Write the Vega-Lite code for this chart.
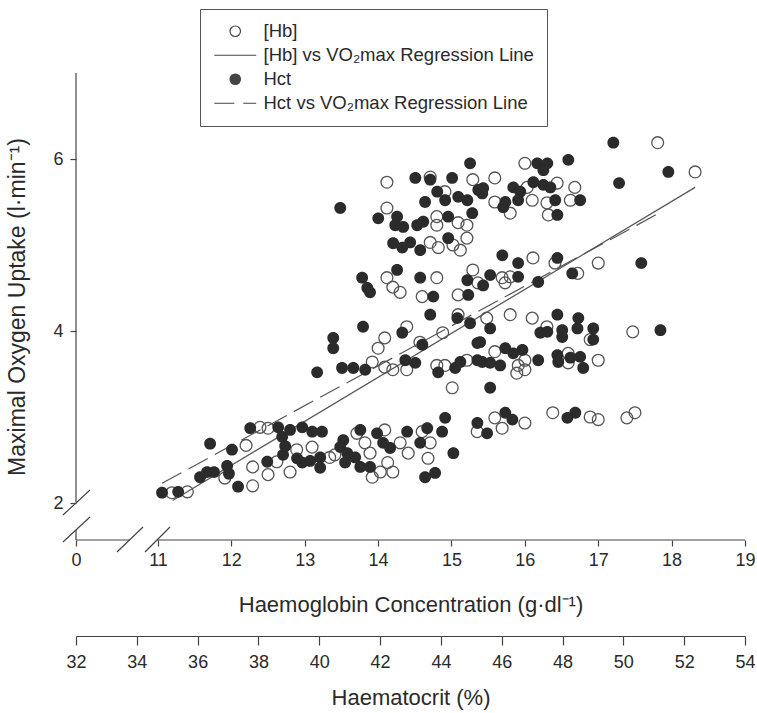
{
  "$schema": "https://vega.github.io/schema/vega-lite/v6.json",
  "width": 669,
  "height": 467,
  "autosize": {"type": "none"},
  "padding": {"left": 76, "top": 73, "right": 12, "bottom": 173},
  "background": "white",
  "config": {
    "view": {"stroke": null},
    "font": "Liberation Sans",
    "axis": {
      "grid": false,
      "labelFont": "Liberation Sans",
      "titleFont": "Liberation Sans",
      "labelFontSize": 18,
      "titleFontSize": 22,
      "titleFontWeight": "normal",
      "labelColor": "#2a2a2a",
      "titleColor": "#2a2a2a",
      "domainColor": "#444",
      "tickColor": "#444",
      "domainWidth": 1.2,
      "tickWidth": 1.2,
      "labelFlush": false,
      "labelOverlap": false
    },
    "legend": {
      "padding": 13,
      "strokeColor": "#555",
      "fillColor": "white",
      "cornerRadius": 0,
      "labelFont": "Liberation Sans",
      "labelFontSize": 18.5,
      "labelColor": "#2a2a2a",
      "labelLimit": 500,
      "symbolSize": 110,
      "symbolStrokeWidth": 1.2,
      "symbolStrokeColor": "#444",
      "rowPadding": 5,
      "symbolOffset": 13,
      "labelOffset": 19
    }
  },
  "datasets": {
    "hb": [
      {"Hb": 11.19, "VO2": 2.12, "series": "[Hb]"},
      {"Hb": 11.40, "VO2": 2.13, "series": "[Hb]"},
      {"Hb": 11.91, "VO2": 2.29, "series": "[Hb]"},
      {"Hb": 12.20, "VO2": 2.67, "series": "[Hb]"},
      {"Hb": 12.29, "VO2": 2.42, "series": "[Hb]"},
      {"Hb": 12.29, "VO2": 2.20, "series": "[Hb]"},
      {"Hb": 12.39, "VO2": 2.88, "series": "[Hb]"},
      {"Hb": 12.50, "VO2": 2.87, "series": "[Hb]"},
      {"Hb": 12.50, "VO2": 2.33, "series": "[Hb]"},
      {"Hb": 12.62, "VO2": 2.48, "series": "[Hb]"},
      {"Hb": 12.80, "VO2": 2.36, "series": "[Hb]"},
      {"Hb": 12.89, "VO2": 2.62, "series": "[Hb]"},
      {"Hb": 13.10, "VO2": 2.65, "series": "[Hb]"},
      {"Hb": 13.34, "VO2": 2.53, "series": "[Hb]"},
      {"Hb": 13.41, "VO2": 2.56, "series": "[Hb]"},
      {"Hb": 13.71, "VO2": 2.81, "series": "[Hb]"},
      {"Hb": 13.82, "VO2": 2.70, "series": "[Hb]"},
      {"Hb": 13.89, "VO2": 2.58, "series": "[Hb]"},
      {"Hb": 13.92, "VO2": 2.30, "series": "[Hb]"},
      {"Hb": 14.03, "VO2": 2.36, "series": "[Hb]"},
      {"Hb": 14.09, "VO2": 2.85, "series": "[Hb]"},
      {"Hb": 14.13, "VO2": 2.47, "series": "[Hb]"},
      {"Hb": 14.20, "VO2": 2.36, "series": "[Hb]"},
      {"Hb": 14.30, "VO2": 2.70, "series": "[Hb]"},
      {"Hb": 14.41, "VO2": 2.58, "series": "[Hb]"},
      {"Hb": 14.60, "VO2": 2.83, "series": "[Hb]"},
      {"Hb": 14.71, "VO2": 2.70, "series": "[Hb]"},
      {"Hb": 14.68, "VO2": 2.52, "series": "[Hb]"},
      {"Hb": 15.35, "VO2": 2.83, "series": "[Hb]"},
      {"Hb": 14.39, "VO2": 4.05, "series": "[Hb]"},
      {"Hb": 14.09, "VO2": 3.92, "series": "[Hb]"},
      {"Hb": 14.00, "VO2": 3.80, "series": "[Hb]"},
      {"Hb": 14.57, "VO2": 3.87, "series": "[Hb]"},
      {"Hb": 14.88, "VO2": 3.98, "series": "[Hb]"},
      {"Hb": 13.92, "VO2": 3.64, "series": "[Hb]"},
      {"Hb": 14.09, "VO2": 3.58, "series": "[Hb]"},
      {"Hb": 14.20, "VO2": 3.55, "series": "[Hb]"},
      {"Hb": 14.39, "VO2": 3.55, "series": "[Hb]"},
      {"Hb": 14.80, "VO2": 3.60, "series": "[Hb]"},
      {"Hb": 14.91, "VO2": 3.60, "series": "[Hb]"},
      {"Hb": 15.21, "VO2": 3.66, "series": "[Hb]"},
      {"Hb": 15.01, "VO2": 3.34, "series": "[Hb]"},
      {"Hb": 15.09, "VO2": 4.19, "series": "[Hb]"},
      {"Hb": 15.48, "VO2": 4.15, "series": "[Hb]"},
      {"Hb": 15.80, "VO2": 4.19, "series": "[Hb]"},
      {"Hb": 16.10, "VO2": 4.15, "series": "[Hb]"},
      {"Hb": 16.30, "VO2": 4.05, "series": "[Hb]"},
      {"Hb": 16.89, "VO2": 3.90, "series": "[Hb]"},
      {"Hb": 17.47, "VO2": 3.99, "series": "[Hb]"},
      {"Hb": 15.59, "VO2": 3.76, "series": "[Hb]"},
      {"Hb": 16.00, "VO2": 3.66, "series": "[Hb]"},
      {"Hb": 15.91, "VO2": 3.60, "series": "[Hb]"},
      {"Hb": 16.00, "VO2": 3.55, "series": "[Hb]"},
      {"Hb": 15.89, "VO2": 3.51, "series": "[Hb]"},
      {"Hb": 16.59, "VO2": 3.74, "series": "[Hb]"},
      {"Hb": 16.59, "VO2": 3.63, "series": "[Hb]"},
      {"Hb": 17.00, "VO2": 3.66, "series": "[Hb]"},
      {"Hb": 15.59, "VO2": 2.99, "series": "[Hb]"},
      {"Hb": 15.69, "VO2": 2.87, "series": "[Hb]"},
      {"Hb": 16.00, "VO2": 2.93, "series": "[Hb]"},
      {"Hb": 16.38, "VO2": 3.05, "series": "[Hb]"},
      {"Hb": 16.89, "VO2": 3.00, "series": "[Hb]"},
      {"Hb": 17.00, "VO2": 2.97, "series": "[Hb]"},
      {"Hb": 17.39, "VO2": 2.99, "series": "[Hb]"},
      {"Hb": 17.50, "VO2": 3.05, "series": "[Hb]"},
      {"Hb": 14.12, "VO2": 5.73, "series": "[Hb]"},
      {"Hb": 14.71, "VO2": 5.79, "series": "[Hb]"},
      {"Hb": 15.29, "VO2": 5.76, "series": "[Hb]"},
      {"Hb": 14.91, "VO2": 5.62, "series": "[Hb]"},
      {"Hb": 14.12, "VO2": 5.43, "series": "[Hb]"},
      {"Hb": 14.80, "VO2": 5.33, "series": "[Hb]"},
      {"Hb": 14.80, "VO2": 5.23, "series": "[Hb]"},
      {"Hb": 15.09, "VO2": 5.26, "series": "[Hb]"},
      {"Hb": 15.21, "VO2": 5.23, "series": "[Hb]"},
      {"Hb": 14.71, "VO2": 5.03, "series": "[Hb]"},
      {"Hb": 14.82, "VO2": 4.97, "series": "[Hb]"},
      {"Hb": 15.02, "VO2": 5.00, "series": "[Hb]"},
      {"Hb": 15.12, "VO2": 4.94, "series": "[Hb]"},
      {"Hb": 15.21, "VO2": 5.08, "series": "[Hb]"},
      {"Hb": 14.12, "VO2": 4.62, "series": "[Hb]"},
      {"Hb": 14.20, "VO2": 4.51, "series": "[Hb]"},
      {"Hb": 14.30, "VO2": 4.45, "series": "[Hb]"},
      {"Hb": 14.80, "VO2": 4.62, "series": "[Hb]"},
      {"Hb": 14.60, "VO2": 4.40, "series": "[Hb]"},
      {"Hb": 15.09, "VO2": 4.42, "series": "[Hb]"},
      {"Hb": 15.29, "VO2": 4.71, "series": "[Hb]"},
      {"Hb": 15.36, "VO2": 4.56, "series": "[Hb]"},
      {"Hb": 16.00, "VO2": 5.95, "series": "[Hb]"},
      {"Hb": 15.59, "VO2": 5.78, "series": "[Hb]"},
      {"Hb": 16.03, "VO2": 5.67, "series": "[Hb]"},
      {"Hb": 16.44, "VO2": 5.72, "series": "[Hb]"},
      {"Hb": 16.68, "VO2": 5.67, "series": "[Hb]"},
      {"Hb": 15.59, "VO2": 5.50, "series": "[Hb]"},
      {"Hb": 15.80, "VO2": 5.37, "series": "[Hb]"},
      {"Hb": 16.10, "VO2": 5.52, "series": "[Hb]"},
      {"Hb": 16.30, "VO2": 5.49, "series": "[Hb]"},
      {"Hb": 16.32, "VO2": 5.35, "series": "[Hb]"},
      {"Hb": 16.62, "VO2": 5.52, "series": "[Hb]"},
      {"Hb": 16.11, "VO2": 4.85, "series": "[Hb]"},
      {"Hb": 16.41, "VO2": 4.79, "series": "[Hb]"},
      {"Hb": 17.00, "VO2": 4.79, "series": "[Hb]"},
      {"Hb": 16.72, "VO2": 4.67, "series": "[Hb]"},
      {"Hb": 15.80, "VO2": 4.63, "series": "[Hb]"},
      {"Hb": 15.69, "VO2": 4.62, "series": "[Hb]"},
      {"Hb": 15.73, "VO2": 4.56, "series": "[Hb]"},
      {"Hb": 17.81, "VO2": 6.19, "series": "[Hb]"},
      {"Hb": 18.32, "VO2": 5.85, "series": "[Hb]"}
    ],
    "hct": [
      {"Hct": 34.83, "VO2": 2.12, "series": "Hct"},
      {"Hct": 35.36, "VO2": 2.13, "series": "Hct"},
      {"Hct": 36.08, "VO2": 2.30, "series": "Hct"},
      {"Hct": 36.31, "VO2": 2.36, "series": "Hct"},
      {"Hct": 36.54, "VO2": 2.36, "series": "Hct"},
      {"Hct": 36.41, "VO2": 2.69, "series": "Hct"},
      {"Hct": 36.97, "VO2": 2.43, "series": "Hct"},
      {"Hct": 37.03, "VO2": 2.34, "series": "Hct"},
      {"Hct": 37.13, "VO2": 2.62, "series": "Hct"},
      {"Hct": 37.33, "VO2": 2.19, "series": "Hct"},
      {"Hct": 37.73, "VO2": 2.87, "series": "Hct"},
      {"Hct": 38.29, "VO2": 2.48, "series": "Hct"},
      {"Hct": 38.65, "VO2": 2.88, "series": "Hct"},
      {"Hct": 38.78, "VO2": 2.77, "series": "Hct"},
      {"Hct": 38.88, "VO2": 2.66, "series": "Hct"},
      {"Hct": 38.81, "VO2": 2.56, "series": "Hct"},
      {"Hct": 39.04, "VO2": 2.85, "series": "Hct"},
      {"Hct": 39.27, "VO2": 2.52, "series": "Hct"},
      {"Hct": 39.44, "VO2": 2.88, "series": "Hct"},
      {"Hct": 39.44, "VO2": 2.47, "series": "Hct"},
      {"Hct": 39.70, "VO2": 2.49, "series": "Hct"},
      {"Hct": 39.77, "VO2": 2.83, "series": "Hct"},
      {"Hct": 40.03, "VO2": 2.53, "series": "Hct"},
      {"Hct": 40.03, "VO2": 2.41, "series": "Hct"},
      {"Hct": 40.09, "VO2": 2.83, "series": "Hct"},
      {"Hct": 39.93, "VO2": 3.52, "series": "Hct"},
      {"Hct": 40.46, "VO2": 3.92, "series": "Hct"},
      {"Hct": 40.46, "VO2": 3.80, "series": "Hct"},
      {"Hct": 40.75, "VO2": 3.57, "series": "Hct"},
      {"Hct": 41.12, "VO2": 3.57, "series": "Hct"},
      {"Hct": 41.51, "VO2": 3.55, "series": "Hct"},
      {"Hct": 41.44, "VO2": 4.05, "series": "Hct"},
      {"Hct": 42.73, "VO2": 3.98, "series": "Hct"},
      {"Hct": 43.39, "VO2": 3.84, "series": "Hct"},
      {"Hct": 42.83, "VO2": 3.66, "series": "Hct"},
      {"Hct": 43.16, "VO2": 3.63, "series": "Hct"},
      {"Hct": 43.91, "VO2": 3.52, "series": "Hct"},
      {"Hct": 44.47, "VO2": 3.57, "series": "Hct"},
      {"Hct": 44.64, "VO2": 3.64, "series": "Hct"},
      {"Hct": 43.65, "VO2": 4.19, "series": "Hct"},
      {"Hct": 44.54, "VO2": 4.15, "series": "Hct"},
      {"Hct": 44.96, "VO2": 4.09, "series": "Hct"},
      {"Hct": 45.20, "VO2": 3.86, "series": "Hct"},
      {"Hct": 45.20, "VO2": 3.66, "series": "Hct"},
      {"Hct": 40.79, "VO2": 2.73, "series": "Hct"},
      {"Hct": 40.69, "VO2": 2.65, "series": "Hct"},
      {"Hct": 40.92, "VO2": 2.58, "series": "Hct"},
      {"Hct": 40.85, "VO2": 2.47, "series": "Hct"},
      {"Hct": 41.18, "VO2": 2.53, "series": "Hct"},
      {"Hct": 41.35, "VO2": 2.85, "series": "Hct"},
      {"Hct": 41.35, "VO2": 2.42, "series": "Hct"},
      {"Hct": 41.67, "VO2": 2.42, "series": "Hct"},
      {"Hct": 41.90, "VO2": 2.81, "series": "Hct"},
      {"Hct": 42.10, "VO2": 2.70, "series": "Hct"},
      {"Hct": 42.33, "VO2": 2.64, "series": "Hct"},
      {"Hct": 42.89, "VO2": 2.83, "series": "Hct"},
      {"Hct": 43.32, "VO2": 2.70, "series": "Hct"},
      {"Hct": 43.55, "VO2": 2.87, "series": "Hct"},
      {"Hct": 44.04, "VO2": 2.83, "series": "Hct"},
      {"Hct": 44.14, "VO2": 2.99, "series": "Hct"},
      {"Hct": 44.41, "VO2": 2.58, "series": "Hct"},
      {"Hct": 43.48, "VO2": 2.30, "series": "Hct"},
      {"Hct": 43.81, "VO2": 2.35, "series": "Hct"},
      {"Hct": 45.20, "VO2": 2.93, "series": "Hct"},
      {"Hct": 45.62, "VO2": 4.03, "series": "Hct"},
      {"Hct": 47.83, "VO2": 4.19, "series": "Hct"},
      {"Hct": 48.52, "VO2": 4.15, "series": "Hct"},
      {"Hct": 49.01, "VO2": 4.03, "series": "Hct"},
      {"Hct": 49.01, "VO2": 3.90, "series": "Hct"},
      {"Hct": 47.27, "VO2": 3.98, "series": "Hct"},
      {"Hct": 47.50, "VO2": 3.99, "series": "Hct"},
      {"Hct": 47.99, "VO2": 4.01, "series": "Hct"},
      {"Hct": 47.99, "VO2": 3.93, "series": "Hct"},
      {"Hct": 48.49, "VO2": 4.03, "series": "Hct"},
      {"Hct": 46.12, "VO2": 3.80, "series": "Hct"},
      {"Hct": 46.38, "VO2": 3.74, "series": "Hct"},
      {"Hct": 46.68, "VO2": 3.78, "series": "Hct"},
      {"Hct": 47.20, "VO2": 3.66, "series": "Hct"},
      {"Hct": 47.83, "VO2": 3.72, "series": "Hct"},
      {"Hct": 47.86, "VO2": 3.64, "series": "Hct"},
      {"Hct": 48.26, "VO2": 3.69, "series": "Hct"},
      {"Hct": 48.58, "VO2": 3.70, "series": "Hct"},
      {"Hct": 48.68, "VO2": 3.57, "series": "Hct"},
      {"Hct": 45.29, "VO2": 3.87, "series": "Hct"},
      {"Hct": 45.36, "VO2": 3.64, "series": "Hct"},
      {"Hct": 45.62, "VO2": 3.63, "series": "Hct"},
      {"Hct": 45.95, "VO2": 3.60, "series": "Hct"},
      {"Hct": 45.62, "VO2": 3.34, "series": "Hct"},
      {"Hct": 46.12, "VO2": 3.05, "series": "Hct"},
      {"Hct": 46.35, "VO2": 2.97, "series": "Hct"},
      {"Hct": 48.16, "VO2": 2.99, "series": "Hct"},
      {"Hct": 48.42, "VO2": 3.05, "series": "Hct"},
      {"Hct": 45.52, "VO2": 2.81, "series": "Hct"},
      {"Hct": 44.96, "VO2": 5.95, "series": "Hct"},
      {"Hct": 43.16, "VO2": 5.78, "series": "Hct"},
      {"Hct": 43.65, "VO2": 5.76, "series": "Hct"},
      {"Hct": 44.37, "VO2": 5.78, "series": "Hct"},
      {"Hct": 40.69, "VO2": 5.43, "series": "Hct"},
      {"Hct": 43.88, "VO2": 5.62, "series": "Hct"},
      {"Hct": 43.48, "VO2": 5.50, "series": "Hct"},
      {"Hct": 44.14, "VO2": 5.52, "series": "Hct"},
      {"Hct": 44.57, "VO2": 5.56, "series": "Hct"},
      {"Hct": 44.87, "VO2": 5.52, "series": "Hct"},
      {"Hct": 45.23, "VO2": 5.64, "series": "Hct"},
      {"Hct": 41.94, "VO2": 5.31, "series": "Hct"},
      {"Hct": 42.56, "VO2": 5.33, "series": "Hct"},
      {"Hct": 42.50, "VO2": 5.23, "series": "Hct"},
      {"Hct": 42.76, "VO2": 5.21, "series": "Hct"},
      {"Hct": 43.22, "VO2": 5.23, "series": "Hct"},
      {"Hct": 43.42, "VO2": 5.27, "series": "Hct"},
      {"Hct": 44.24, "VO2": 5.33, "series": "Hct"},
      {"Hct": 45.03, "VO2": 5.37, "series": "Hct"},
      {"Hct": 42.43, "VO2": 5.02, "series": "Hct"},
      {"Hct": 42.73, "VO2": 4.97, "series": "Hct"},
      {"Hct": 42.99, "VO2": 5.03, "series": "Hct"},
      {"Hct": 43.32, "VO2": 4.94, "series": "Hct"},
      {"Hct": 44.24, "VO2": 5.08, "series": "Hct"},
      {"Hct": 42.56, "VO2": 4.71, "series": "Hct"},
      {"Hct": 41.41, "VO2": 4.62, "series": "Hct"},
      {"Hct": 41.58, "VO2": 4.50, "series": "Hct"},
      {"Hct": 41.67, "VO2": 4.45, "series": "Hct"},
      {"Hct": 43.32, "VO2": 4.62, "series": "Hct"},
      {"Hct": 43.75, "VO2": 4.40, "series": "Hct"},
      {"Hct": 44.87, "VO2": 4.59, "series": "Hct"},
      {"Hct": 44.90, "VO2": 4.42, "series": "Hct"},
      {"Hct": 48.19, "VO2": 5.99, "series": "Hct"},
      {"Hct": 49.67, "VO2": 6.19, "series": "Hct"},
      {"Hct": 49.86, "VO2": 5.72, "series": "Hct"},
      {"Hct": 47.17, "VO2": 5.95, "series": "Hct"},
      {"Hct": 47.50, "VO2": 5.95, "series": "Hct"},
      {"Hct": 47.37, "VO2": 5.87, "series": "Hct"},
      {"Hct": 47.04, "VO2": 5.73, "series": "Hct"},
      {"Hct": 47.37, "VO2": 5.70, "series": "Hct"},
      {"Hct": 47.60, "VO2": 5.67, "series": "Hct"},
      {"Hct": 46.38, "VO2": 5.67, "series": "Hct"},
      {"Hct": 46.61, "VO2": 5.62, "series": "Hct"},
      {"Hct": 46.54, "VO2": 5.52, "series": "Hct"},
      {"Hct": 46.12, "VO2": 5.50, "series": "Hct"},
      {"Hct": 46.05, "VO2": 5.44, "series": "Hct"},
      {"Hct": 45.39, "VO2": 5.66, "series": "Hct"},
      {"Hct": 45.36, "VO2": 5.60, "series": "Hct"},
      {"Hct": 47.76, "VO2": 5.52, "series": "Hct"},
      {"Hct": 48.58, "VO2": 5.52, "series": "Hct"},
      {"Hct": 47.83, "VO2": 5.35, "series": "Hct"},
      {"Hct": 46.02, "VO2": 4.88, "series": "Hct"},
      {"Hct": 46.54, "VO2": 4.79, "series": "Hct"},
      {"Hct": 47.83, "VO2": 4.85, "series": "Hct"},
      {"Hct": 48.32, "VO2": 4.67, "series": "Hct"},
      {"Hct": 46.54, "VO2": 4.63, "series": "Hct"},
      {"Hct": 45.62, "VO2": 4.65, "series": "Hct"},
      {"Hct": 45.39, "VO2": 4.53, "series": "Hct"},
      {"Hct": 47.20, "VO2": 4.57, "series": "Hct"},
      {"Hct": 51.48, "VO2": 5.85, "series": "Hct"},
      {"Hct": 50.59, "VO2": 4.79, "series": "Hct"},
      {"Hct": 51.22, "VO2": 4.01, "series": "Hct"}
    ],
    "hbfit": [
      {"Hb": 11.2, "VO2": 2.03},
      {"Hb": 18.32, "VO2": 5.67}
    ],
    "hctfit": [
      {"Hct": 34.83, "VO2": 2.23},
      {"Hct": 51.22, "VO2": 5.38}
    ],
    "axislines": [
      {"Hb": 9.8825, "Hb2": 9.8825, "VO2": 2.01, "VO2b": 7.0},
      {"Hb": 9.8825, "Hb2": 9.8825, "VO2": 1.57, "VO2b": 1.686},
      {"Hb": 9.8825, "Hb2": 10.618, "VO2": 1.57, "VO2b": 1.57},
      {"Hb": 10.986, "Hb2": 19.0, "VO2": 1.57, "VO2b": 1.57},
      {"Hb": 9.705, "Hb2": 10.073, "VO2": 1.860, "VO2b": 2.151},
      {"Hb": 9.705, "Hb2": 10.073, "VO2": 1.547, "VO2b": 1.837},
      {"Hb": 10.441, "Hb2": 10.796, "VO2": 1.430, "VO2b": 1.721},
      {"Hb": 10.823, "Hb2": 11.164, "VO2": 1.430, "VO2b": 1.721}
    ]
  },
  "layer": [
    {
      "layer": [
        {
          "data": {"name": "axislines"},
          "mark": {"type": "rule", "color": "#444", "strokeWidth": 1.2},
          "encoding": {
            "x": {"field": "Hb", "type": "quantitative", "title": "Haemoglobin Concentration (g·dl⁻¹)"},
            "x2": {"field": "Hb2"},
            "y": {"field": "VO2", "type": "quantitative", "title": "Maximal Oxygen Uptake (l·min⁻¹)"},
            "y2": {"field": "VO2b"}
          }
        },
        {
          "data": {"name": "hb"},
          "mark": {"type": "point", "filled": false, "size": 140, "strokeWidth": 1.3, "color": "#555", "opacity": 1},
          "encoding": {
            "x": {
              "field": "Hb", "type": "quantitative",
              "title": "Haemoglobin Concentration (g·dl⁻¹)",
              "scale": {"domain": [9.8825, 19], "nice": false, "zero": false},
              "axis": {
                "orient": "bottom",
                "values": [9.8825, 11, 12, 13, 14, 15, 16, 17, 18, 19],
                "labelExpr": "datum.value < 10 ? '0' : format(datum.value, 'd')",
                "domain": false,
                "tickSize": 6,
                "labelPadding": 5,
                "titlePadding": 25
              }
            },
            "y": {
              "field": "VO2", "type": "quantitative",
              "title": "Maximal Oxygen Uptake (l·min⁻¹)",
              "scale": {"domain": [1.57, 7.0], "nice": false, "zero": false},
              "axis": {
                "values": [2, 4, 6],
                "format": "d",
                "domain": false,
                "tickSize": 6,
                "labelPadding": 7,
                "titlePadding": 23,
                "titleFontSize": 23
              }
            },
            "shape": {
              "field": "series", "type": "nominal",
              "scale": {
                "domain": ["[Hb]", "[Hb] vs VO₂max Regression Line", "Hct", "Hct vs VO₂max Regression Line"],
                "range": [
                  "circle",
                  "M-4,0H4",
                  "M-1,0A1,1,0,1,0,1,0A1,1,0,1,0,-1,0M-0.82,0A0.82,0.82,0,1,0,0.82,0A0.82,0.82,0,1,0,-0.82,0M-0.64,0A0.64,0.64,0,1,0,0.64,0A0.64,0.64,0,1,0,-0.64,0M-0.46,0A0.46,0.46,0,1,0,0.46,0A0.46,0.46,0,1,0,-0.46,0M-0.28,0A0.28,0.28,0,1,0,0.28,0A0.28,0.28,0,1,0,-0.28,0M-0.12,0A0.12,0.12,0,1,0,0.12,0A0.12,0.12,0,1,0,-0.12,0",
                  "M-4,0H-0.19M1.53,0H4"
                ]
              },
              "legend": {
                "title": null,
                "orient": "none",
                "legendX": 124,
                "legendY": -64,
                "encode": {
                  "symbols": {
                    "fill": {"value": {"expr": "datum.value === 'Hct' ? '#2b2b2b' : 'transparent'"}}
                  }
                }
              }
            }
          }
        },
        {
          "data": {"name": "hbfit"},
          "mark": {"type": "line", "color": "#555", "strokeWidth": 1.2},
          "encoding": {
            "x": {"field": "Hb", "type": "quantitative", "title": "Haemoglobin Concentration (g·dl⁻¹)"},
            "y": {"field": "VO2", "type": "quantitative", "title": "Maximal Oxygen Uptake (l·min⁻¹)"}
          }
        }
      ]
    },
    {
      "layer": [
        {
          "data": {"name": "hctfit"},
          "mark": {"type": "line", "color": "#555", "strokeWidth": 1.2, "strokeDash": [22, 8]},
          "encoding": {
            "x": {"field": "Hct", "type": "quantitative", "title": "Haematocrit (%)"},
            "y": {"field": "VO2", "type": "quantitative", "title": "Maximal Oxygen Uptake (l·min⁻¹)"}
          }
        },
        {
          "data": {"name": "hct"},
          "mark": {"type": "point", "filled": true, "size": 140, "color": "#2b2b2b", "opacity": 1},
          "encoding": {
            "x": {
              "field": "Hct", "type": "quantitative",
              "title": "Haematocrit (%)",
              "scale": {"domain": [32, 54], "nice": false, "zero": false},
              "axis": {
                "orient": "bottom",
                "offset": 96,
                "values": [32, 34, 36, 38, 40, 42, 44, 46, 48, 50, 52, 54],
                "domain": true,
                "tickSize": 9,
                "labelPadding": 8,
                "titlePadding": 16
              }
            },
            "y": {"field": "VO2", "type": "quantitative", "title": "Maximal Oxygen Uptake (l·min⁻¹)"},
            "shape": {
              "field": "series", "type": "nominal",
              "legend": {
                "title": null,
                "orient": "none",
                "legendX": 124,
                "legendY": -64,
                "encode": {
                  "symbols": {
                    "fill": {"value": {"expr": "datum.value === 'Hct' ? '#2b2b2b' : 'transparent'"}}
                  }
                }
              }
            }
          }
        }
      ]
    }
  ],
  "resolve": {"scale": {"x": "independent"}}
}
